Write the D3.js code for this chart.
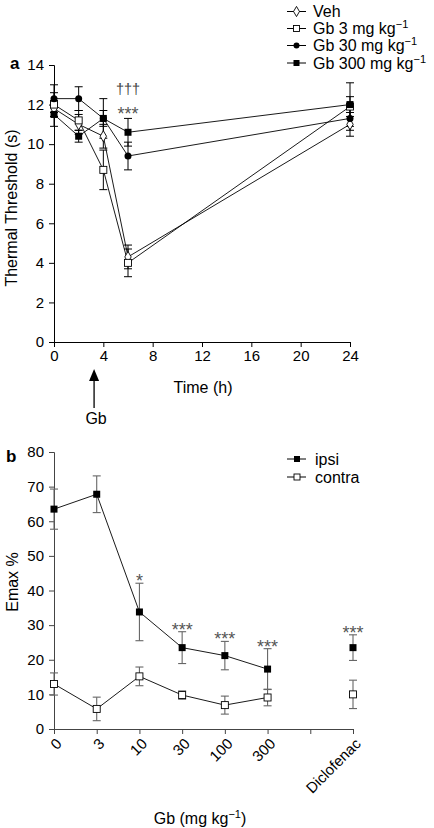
<!DOCTYPE html>
<html><head><meta charset="utf-8">
<script src="https://cdn.jsdelivr.net/npm/d3@7"></script>
<style>body{margin:0;background:#fff}svg{display:block;font-family:"Liberation Sans",Arial,sans-serif}</style>
</head><body><svg id="c" width="434" height="828"></svg>
<script>
// Panel a data
const timesA = [0, 2, 4, 6, 24];
const yTicksA = [0, 2, 4, 6, 8, 10, 12, 14];
const xTicksA = [0, 4, 8, 12, 16, 20, 24];
const vehMean = [11.8, 11.0, 10.4, 4.3, 11.0];
const vehErr = [0.4, 0.5, 0.6, 0.6, 0.6];
const gb3Mean = [12.0, 11.2, 8.7, 4.0, 11.9];
const gb3Err = [0.6, 0.5, 1.0, 0.7, 0.5];
const gb30Mean = [12.3, 12.3, 11.3, 9.4, 11.3];
const gb30Err = [0.7, 0.6, 1.0, 0.7, 0.6];
const gb300Mean = [11.5, 10.4, 11.3, 10.6, 12.0];
const gb300Err = [0.6, 0.3, 0.4, 0.7, 1.1];
const seriesA = ["Veh", "Gb 3 mg kg", "Gb 30 mg kg", "Gb 300 mg kg"];

// Panel b data
const catsB = ["0", "3", "10", "30", "100", "300", "", "Diclofenac"];
const yTicksB = [0, 10, 20, 30, 40, 50, 60, 70, 80];
const ipsiMean = [63.5, 67.8, 33.8, 23.5, 21.2, 17.3, null, 23.5];
const ipsiErr = [5.8, 5.3, 8.3, 4.6, 4.1, 5.9, null, 3.7];
const contraMean = [13.0, 5.8, 15.2, 9.8, 6.9, 9.1, null, 10.0];
const contraErr = [3.2, 3.4, 2.7, 1.2, 2.6, 2.4, null, 4.1];
const sigB = ["", "", "*", "***", "***", "***", "", "***"];

const svg = d3.select("#c");
const FS = 15;

// ---------- Panel a ----------
const xa = d3.scaleLinear().domain([0, 24]).range([54, 350]);
const ya = d3.scaleLinear().domain([0, 14]).range([342, 65]);
const gA = svg.append("g");
const axA = gA.append("g").attr("transform", "translate(54,0)")
  .call(d3.axisLeft(ya).tickValues(yTicksA).tickSize(5).tickPadding(5).tickFormat(d3.format("d")));
const axAx = gA.append("g").attr("transform", "translate(0,342)")
  .call(d3.axisBottom(xa).tickValues(xTicksA).tickSize(5).tickPadding(3).tickFormat(d3.format("d")));
[axA, axAx].forEach(a => { a.selectAll("text").attr("font-size", FS).attr("fill", "#000").attr("font-family", "Liberation Sans, Arial, sans-serif"); a.selectAll("path,line").attr("stroke", "#000"); });

const seriesDataA = [
  {name: seriesA[0], m: vehMean, e: vehErr, sym: "diamond"},
  {name: seriesA[1], m: gb3Mean, e: gb3Err, sym: "osquare"},
  {name: seriesA[2], m: gb30Mean, e: gb30Err, sym: "circle"},
  {name: seriesA[3], m: gb300Mean, e: gb300Err, sym: "square"}
];

function drawMarker(g, sym, x, y, s) {
  if (sym === "diamond") {
    g.append("path").attr("d", d3.symbol().type(d3.symbolDiamond).size(s * 5)()).attr("transform", `translate(${x},${y})`).attr("fill", "#fff").attr("stroke", "#000").attr("stroke-width", 0.9);
  } else if (sym === "osquare") {
    g.append("rect").attr("x", x - s / 2).attr("y", y - s / 2).attr("width", s).attr("height", s).attr("fill", "#fff").attr("stroke", "#000").attr("stroke-width", 0.9);
  } else if (sym === "square") {
    g.append("rect").attr("x", x - s / 2).attr("y", y - s / 2).attr("width", s).attr("height", s).attr("fill", "#000");
  } else {
    g.append("circle").attr("cx", x).attr("cy", y).attr("r", s / 2).attr("fill", "#000");
  }
}

const line = (xs, ys) => d3.line().defined(d => d[1] != null).x(d => xs(d[0])).y(d => ys(d[1]));

// error bars first
seriesDataA.forEach(s => {
  s.m.forEach((v, i) => {
    const x = xa(timesA[i]);
    gA.append("line").attr("x1", x).attr("x2", x).attr("y1", ya(v - s.e[i])).attr("y2", ya(v + s.e[i])).attr("stroke", "#000").attr("stroke-width", 1);
    [v - s.e[i], v + s.e[i]].forEach(t => gA.append("line").attr("x1", x - 4).attr("x2", x + 4).attr("y1", ya(t)).attr("y2", ya(t)).attr("stroke", "#000").attr("stroke-width", 1));
  });
});
seriesDataA.forEach(s => {
  gA.append("path").datum(timesA.map((t, i) => [t, s.m[i]])).attr("d", line(xa, ya)).attr("fill", "none").attr("stroke", "#000").attr("stroke-width", 0.9);
});
seriesDataA.forEach(s => {
  s.m.forEach((v, i) => drawMarker(gA, s.sym, xa(timesA[i]), ya(v), 7));
});

// annotations a
gA.append("text").attr("x", xa(6)).attr("y", 94).attr("text-anchor", "middle").attr("font-size", 14.5).attr("fill", "#444").text("\u2020\u2020\u2020");
gA.append("text").attr("x", xa(6)).attr("y", 120).attr("text-anchor", "middle").attr("font-size", 18).attr("fill", "#555").text("***");

// legend a
const legY = [11.5, 28.5, 45.5, 63];
seriesDataA.forEach((s, i) => {
  gA.append("line").attr("x1", 287).attr("x2", 306).attr("y1", legY[i]).attr("y2", legY[i]).attr("stroke", "#000").attr("stroke-width", 1);
  drawMarker(gA, s.sym, 296.5, legY[i], 6);
  const t = gA.append("text").attr("x", 313).attr("y", legY[i] + 5.5).attr("font-size", 16).attr("fill", "#000");
  t.append("tspan").text(s.name);
  if (i > 0) t.append("tspan").attr("dy", -6).attr("font-size", 11).text("\u22121");
});

gA.append("text").attr("x", 10).attr("y", 69).attr("font-size", 17).attr("font-weight", "bold").text("a");
gA.append("text").attr("transform", "translate(17,208) rotate(-90)").attr("text-anchor", "middle").attr("font-size", 16).text("Thermal Threshold (s)");
gA.append("text").attr("x", 203).attr("y", 393).attr("text-anchor", "middle").attr("font-size", 16).text("Time (h)");
// arrow
const arrX = xa(3.25);
gA.append("line").attr("x1", arrX).attr("x2", arrX).attr("y1", 378).attr("y2", 408).attr("stroke", "#000").attr("stroke-width", 1.3);
gA.append("path").attr("d", `M${arrX},369 L${arrX - 5},381 L${arrX + 5},381 Z`).attr("fill", "#000");
gA.append("text").attr("x", arrX + 2).attr("y", 424).attr("text-anchor", "middle").attr("font-size", 16).text("Gb");

// ---------- Panel b ----------
const xb = d3.scaleLinear().domain([0, 7]).range([54, 353]);
const yb = d3.scaleLinear().domain([0, 80]).range([729, 452]);
const gB = svg.append("g");
const axB = gB.append("g").attr("transform", "translate(54,0)")
  .call(d3.axisLeft(yb).tickValues(yTicksB).tickSize(5).tickPadding(5).tickFormat(d3.format("d")));
const axBx = gB.append("g").attr("transform", "translate(0,729)")
  .call(d3.axisBottom(xb).tickValues(d3.range(catsB.length)).tickSize(5).tickFormat(""));
[axB, axBx].forEach(a => { a.selectAll("text").attr("font-size", FS).attr("fill", "#000").attr("font-family", "Liberation Sans, Arial, sans-serif"); a.selectAll("path,line").attr("stroke", "#444"); });
catsB.forEach((c, i) => {
  if (!c) return;
  gB.append("text").attr("transform", `translate(${xb(i) + 5},741) rotate(-45)`).attr("text-anchor", "end").attr("dy", "0.35em").attr("font-size", FS).text(c);
});

function drawSeriesB(m, e, filled) {
  m.forEach((v, i) => {
    if (v == null) return;
    const x = xb(i);
    gB.append("line").attr("x1", x).attr("x2", x).attr("y1", yb(v - e[i])).attr("y2", yb(v + e[i])).attr("stroke", "#666").attr("stroke-width", 1.1);
    [v - e[i], v + e[i]].forEach(t => gB.append("line").attr("x1", x - 4).attr("x2", x + 4).attr("y1", yb(t)).attr("y2", yb(t)).attr("stroke", "#666").attr("stroke-width", 1.1));
  });
  const pts = m.slice(0, 6).map((v, i) => [i, v]);
  gB.append("path").datum(pts).attr("d", line(xb, yb)).attr("fill", "none").attr("stroke", "#000").attr("stroke-width", 0.9);
  m.forEach((v, i) => { if (v != null) drawMarker(gB, filled ? "square" : "osquare", xb(i), yb(v), 7); });
}
drawSeriesB(contraMean, contraErr, false);
drawSeriesB(ipsiMean, ipsiErr, true);

sigB.forEach((s, i) => {
  if (!s) return;
  gB.append("text").attr("x", xb(i)).attr("y", yb(ipsiMean[i] + ipsiErr[i]) + 4).attr("text-anchor", "middle").attr("font-size", 18).attr("fill", "#555").text(s);
});

// legend b
[["ipsi", true, 459], ["contra", false, 477]].forEach(([name, filled, y]) => {
  gB.append("line").attr("x1", 287).attr("x2", 306).attr("y1", y).attr("y2", y).attr("stroke", "#000");
  drawMarker(gB, filled ? "square" : "osquare", 297, y, 6);
  gB.append("text").attr("x", 315).attr("y", y + 5.5).attr("font-size", 16).text(name);
});

gB.append("text").attr("x", 6).attr("y", 462).attr("font-size", 17).attr("font-weight", "bold").text("b");
gB.append("text").attr("transform", "translate(18,582) rotate(-90)").attr("text-anchor", "middle").attr("font-size", 16).text("Emax %");
const xl = gB.append("text").attr("x", 200).attr("y", 824).attr("text-anchor", "middle").attr("font-size", 16);
xl.append("tspan").text("Gb (mg kg");
xl.append("tspan").attr("dy", -6).attr("font-size", 11).text("\u22121");
xl.append("tspan").attr("dy", 6).text(")");
</script></body></html>
